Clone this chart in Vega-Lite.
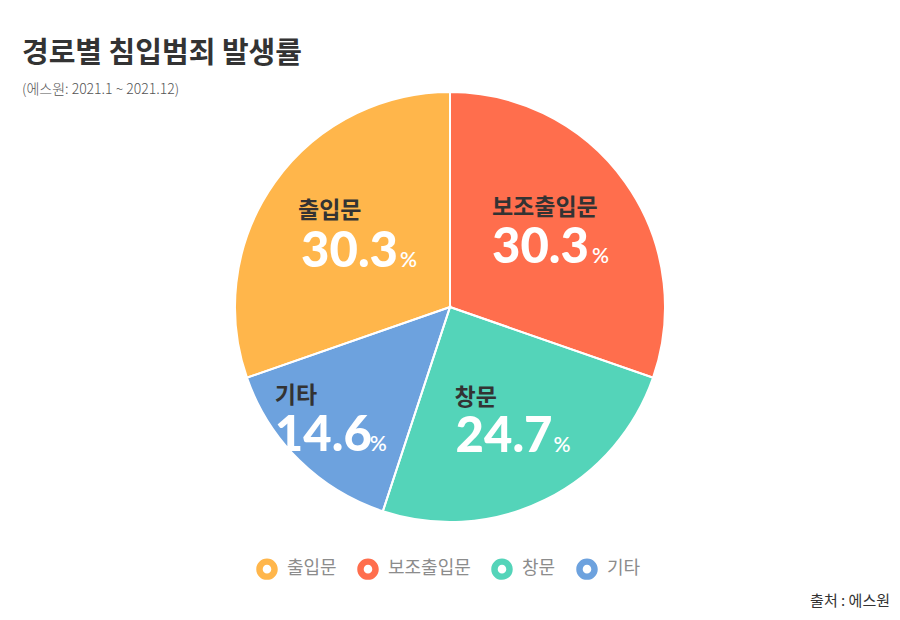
{
  "$schema": "https://vega.github.io/schema/vega-lite/v6.json",
  "autosize": "none",
  "padding": {"left": 235, "top": 92, "right": 235, "bottom": 98},
  "background": "white",
  "config": {"view": {"stroke": null}},
  "title": {
    "text": "경로별 침입범죄 발생률",
    "subtitle": "(에스원: 2021.1 ~ 2021.12)",
    "anchor": "start",
    "frame": "group",
    "dx": -213,
    "offset": -9,
    "font": "Noto Sans CJK KR",
    "fontSize": 29,
    "fontWeight": "bold",
    "color": "#333333",
    "subtitleFont": "Noto Sans CJK KR",
    "subtitleFontSize": 14,
    "subtitleFontWeight": 300,
    "subtitleColor": "#555555",
    "subtitlePadding": 14
  },
  "width": 430,
  "height": 430,
  "data": {
    "values": [
      {"cat": "보조출입문", "value": 30.3},
      {"cat": "창문", "value": 24.7},
      {"cat": "기타", "value": 14.6},
      {"cat": "출입문", "value": 30.3}
    ]
  },
  "transform": [{"window": [{"op": "row_number", "as": "idx"}]}],
  "encoding": {
    "theta": {"field": "value", "type": "quantitative", "stack": true},
    "order": {"field": "idx", "type": "quantitative"},
    "detail": {"field": "cat", "type": "nominal"}
  },
  "layer": [
    {
      "mark": {"type": "arc", "outerRadius": 215},
      "encoding": {
        "color": {
          "field": "cat",
          "type": "nominal",
          "scale": {
            "domain": ["출입문", "보조출입문", "창문", "기타"],
            "range": ["#FFB64B", "#FF6E4D", "#54D4B9", "#6DA2DE"]
          },
          "legend": {
            "orient": "none",
            "legendX": 21,
            "legendY": 466,
            "direction": "horizontal",
            "title": null,
            "values": ["출입문", "보조출입문", "창문", "기타"],
            "symbolType": "M -1 0 A 1 1 0 1 0 1 0 A 1 1 0 1 0 -1 0 Z M -0.4 0 A 0.4 0.4 0 1 1 0.4 0 A 0.4 0.4 0 1 1 -0.4 0 Z",
            "symbolSize": 462,
            "symbolStrokeWidth": 0,
            "symbolOpacity": 1,
            "labelFont": "Noto Sans CJK KR",
            "labelFontSize": 18,
            "labelColor": "#8c8c8c",
            "labelOffset": 9,
            "columnPadding": 20,
            "padding": 0
          }
        }
      }
    },
    {
      "mark": {"type": "arc", "outerRadius": 215, "filled": false, "stroke": "white", "strokeWidth": 2}
    },
    {
      "mark": {"type": "text", "radius": 130, "align": "left", "baseline": "alphabetic", "dx": -64, "dy": -17, "font": "Noto Sans CJK KR", "fontSize": 23, "fontWeight": "bold", "color": "#333333"},
      "encoding": {"text": {"condition": {"test": "datum.cat === '보조출입문'", "field": "cat"}, "value": ""}}
    },
    {
      "mark": {"type": "text", "radius": 130, "align": "left", "baseline": "alphabetic", "dx": -64, "dy": 31, "font": "Lato", "fontSize": 49, "fontWeight": 900, "color": "white"},
      "encoding": {"text": {"condition": {"test": "datum.cat === '보조출입문'", "field": "value", "format": ".1f"}, "value": ""}}
    },
    {
      "mark": {"type": "text", "radius": 130, "align": "left", "baseline": "alphabetic", "dx": 36, "dy": 31, "font": "Lato", "fontSize": 21, "fontWeight": 600, "color": "white"},
      "encoding": {"text": {"condition": {"test": "datum.cat === '보조출입문'", "value": "%"}, "value": ""}}
    },
    {
      "mark": {"type": "text", "radius": 130, "align": "left", "baseline": "alphabetic", "dx": -53, "dy": -19, "font": "Noto Sans CJK KR", "fontSize": 23, "fontWeight": "bold", "color": "#333333"},
      "encoding": {"text": {"condition": {"test": "datum.cat === '창문'", "field": "cat"}, "value": ""}}
    },
    {
      "mark": {"type": "text", "radius": 130, "align": "left", "baseline": "alphabetic", "dx": -52, "dy": 28, "font": "Lato", "fontSize": 49, "fontWeight": 900, "color": "white"},
      "encoding": {"text": {"condition": {"test": "datum.cat === '창문'", "field": "value", "format": ".1f"}, "value": ""}}
    },
    {
      "mark": {"type": "text", "radius": 130, "align": "left", "baseline": "alphabetic", "dx": 46, "dy": 28, "font": "Lato", "fontSize": 21, "fontWeight": 600, "color": "white"},
      "encoding": {"text": {"condition": {"test": "datum.cat === '창문'", "value": "%"}, "value": ""}}
    },
    {
      "mark": {"type": "text", "radius": 130, "align": "left", "baseline": "alphabetic", "dx": -84, "dy": 3, "font": "Noto Sans CJK KR", "fontSize": 23, "fontWeight": "bold", "color": "#333333"},
      "encoding": {"text": {"condition": {"test": "datum.cat === '기타'", "field": "cat"}, "value": ""}}
    },
    {
      "mark": {"type": "text", "radius": 130, "align": "left", "baseline": "alphabetic", "dx": -84, "dy": 51, "font": "Lato", "fontSize": 49, "fontWeight": 900, "color": "white"},
      "encoding": {"text": {"condition": {"test": "datum.cat === '기타'", "field": "value", "format": ".1f"}, "value": ""}}
    },
    {
      "mark": {"type": "text", "radius": 130, "align": "left", "baseline": "alphabetic", "dx": 11, "dy": 51, "font": "Lato", "fontSize": 21, "fontWeight": 600, "color": "white"},
      "encoding": {"text": {"condition": {"test": "datum.cat === '기타'", "value": "%"}, "value": ""}}
    },
    {
      "mark": {"type": "text", "radius": 130, "align": "left", "baseline": "alphabetic", "dx": -46, "dy": -14, "font": "Noto Sans CJK KR", "fontSize": 23, "fontWeight": "bold", "color": "#333333"},
      "encoding": {"text": {"condition": {"test": "datum.cat === '출입문'", "field": "cat"}, "value": ""}}
    },
    {
      "mark": {"type": "text", "radius": 130, "align": "left", "baseline": "alphabetic", "dx": -43, "dy": 35, "font": "Lato", "fontSize": 49, "fontWeight": 900, "color": "white"},
      "encoding": {"text": {"condition": {"test": "datum.cat === '출입문'", "field": "value", "format": ".1f"}, "value": ""}}
    },
    {
      "mark": {"type": "text", "radius": 130, "align": "left", "baseline": "alphabetic", "dx": 56, "dy": 35, "font": "Lato", "fontSize": 21, "fontWeight": 600, "color": "white"},
      "encoding": {"text": {"condition": {"test": "datum.cat === '출입문'", "value": "%"}, "value": ""}}
    },
    {
      "data": {"values": [{"source": "출처 : 에스원"}]},
      "transform": [],
      "mark": {"type": "text", "x": {"expr": "width"}, "y": {"expr": "height"}, "dx": 225, "dy": 84, "align": "right", "baseline": "alphabetic", "font": "Noto Sans CJK KR", "fontSize": 15, "color": "#333333"},
      "encoding": {"text": {"field": "source"}, "theta": null, "order": null, "detail": null}
    }
  ]
}
